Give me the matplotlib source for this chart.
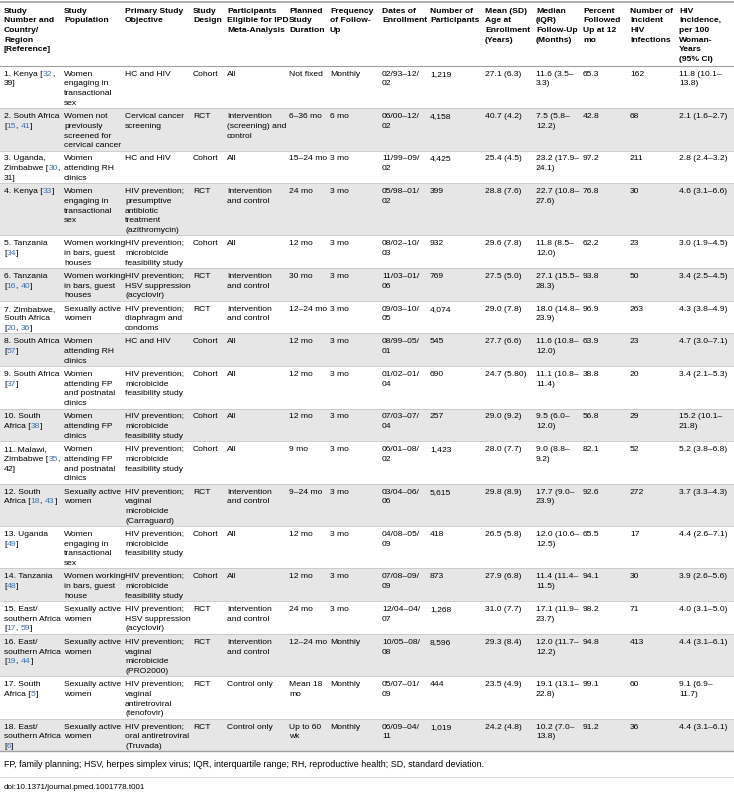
import matplotlib.pyplot as plt
from matplotlib.font_manager import FontProperties

plt.rcParams['font.family'] = ['Liberation Sans', 'DejaVu Sans']

header = ["Study\nNumber and\nCountry/\nRegion\n[Reference]", "Study\nPopulation", "Primary Study\nObjective",
          "Study\nDesign", "Participants\nEligible for IPD\nMeta-Analysis", "Planned\nStudy\nDuration",
          "Frequency\nof Follow-\nUp", "Dates of\nEnrollment", "Number of\nParticipants",
          "Mean (SD)\nAge at\nEnrollment\n(Years)", "Median\n(IQR)\nFollow-Up\n(Months)",
          "Percent\nFollowed\nUp at 12\nmo", "Number of\nIncident\nHIV\nInfections",
          "HIV\nIncidence,\nper 100\nWoman-\nYears\n(95% CI)"]

study = ["1. Kenya [32,\n39]", "2. South Africa\n[15, 41]", "3. Uganda,\nZimbabwe [30,\n31]", "4. Kenya [33]",
         "5. Tanzania\n[34]", "6. Tanzania\n[16, 40]", "7. Zimbabwe,\nSouth Africa\n[20, 36]",
         "8. South Africa\n[57]", "9. South Africa\n[37]", "10. South\nAfrica [38]",
         "11. Malawi,\nZimbabwe [35,\n42]", "12. South\nAfrica [18, 43]", "13. Uganda\n[49]",
         "14. Tanzania\n[48]", "15. East/\nsouthern Africa\n[17, 59]", "16. East/\nsouthern Africa\n[19, 44]",
         "17. South\nAfrica [5]", "18. East/\nsouthern Africa\n[6]"]
population = ["Women\nengaging in\ntransactional\nsex", "Women not\npreviously\nscreened for\ncervical cancer",
              "Women\nattending RH\nclinics", "Women\nengaging in\ntransactional\nsex",
              "Women working\nin bars, guest\nhouses", "Women working\nin bars, guest\nhouses",
              "Sexually active\nwomen", "Women\nattending RH\nclinics", "Women\nattending FP\nand postnatal\nclinics",
              "Women\nattending FP\nclinics", "Women\nattending FP\nand postnatal\nclinics", "Sexually active\nwomen",
              "Women\nengaging in\ntransactional\nsex", "Women working\nin bars, guest\nhouse",
              "Sexually active\nwomen", "Sexually active\nwomen", "Sexually active\nwomen", "Sexually active\nwomen"]
objective = ["HC and HIV", "Cervical cancer\nscreening", "HC and HIV",
             "HIV prevention;\npresumptive\nantibiotic\ntreatment\n(azithromycin)",
             "HIV prevention;\nmicrobicide\nfeasibility study", "HIV prevention;\nHSV suppression\n(acyclovir)",
             "HIV prevention;\ndiaphragm and\ncondoms", "HC and HIV", "HIV prevention;\nmicrobicide\nfeasibility study",
             "HIV prevention;\nmicrobicide\nfeasibility study", "HIV prevention;\nmicrobicide\nfeasibility study",
             "HIV prevention;\nvaginal\nmicrobicide\n(Carraguard)", "HIV prevention;\nmicrobicide\nfeasibility study",
             "HIV prevention;\nmicrobicide\nfeasibility study", "HIV prevention;\nHSV suppression\n(acyclovir)",
             "HIV prevention;\nvaginal\nmicrobicide\n(PRO2000)", "HIV prevention;\nvaginal\nantiretroviral\n(tenofovir)",
             "HIV prevention;\noral antiretroviral\n(Truvada)"]
design = ["Cohort", "RCT", "Cohort", "RCT", "Cohort", "RCT", "RCT", "Cohort", "Cohort", "Cohort", "Cohort",
          "RCT", "Cohort", "Cohort", "RCT", "RCT", "RCT", "RCT"]
eligible = ["All", "Intervention\n(screening) and\ncontrol", "All", "Intervention\nand control", "All",
            "Intervention\nand control", "Intervention\nand control", "All", "All", "All", "All",
            "Intervention\nand control", "All", "All", "Intervention\nand control", "Intervention\nand control",
            "Control only", "Control only"]
duration = ["Not fixed", "6–36 mo", "15–24 mo", "24 mo", "12 mo", "30 mo", "12–24 mo", "12 mo", "12 mo", "12 mo",
            "9 mo", "9–24 mo", "12 mo", "12 mo", "24 mo", "12–24 mo", "Mean 18\nmo", "Up to 60\nwk"]
frequency = ["Monthly", "6 mo", "3 mo", "3 mo", "3 mo", "3 mo", "3 mo", "3 mo", "3 mo", "3 mo", "3 mo", "3 mo",
             "3 mo", "3 mo", "3 mo", "Monthly", "Monthly", "Monthly"]
dates = ["02/93–12/\n02", "06/00–12/\n02", "11/99–09/\n02", "05/98–01/\n02", "08/02–10/\n03", "11/03–01/\n06",
         "09/03–10/\n05", "08/99–05/\n01", "01/02–01/\n04", "07/03–07/\n04", "06/01–08/\n02", "03/04–06/\n06",
         "04/08–05/\n09", "07/08–09/\n09", "12/04–04/\n07", "10/05–08/\n08", "05/07–01/\n09", "06/09–04/\n11"]
participants = ["1,219", "4,158", "4,425", "399", "932", "769", "4,074", "545", "690", "257", "1,423", "5,615",
                "418", "873", "1,268", "8,596", "444", "1,019"]
age = ["27.1 (6.3)", "40.7 (4.2)", "25.4 (4.5)", "28.8 (7.6)", "29.6 (7.8)", "27.5 (5.0)", "29.0 (7.8)",
       "27.7 (6.6)", "24.7 (5.80)", "29.0 (9.2)", "28.0 (7.7)", "29.8 (8.9)", "26.5 (5.8)", "27.9 (6.8)",
       "31.0 (7.7)", "29.3 (8.4)", "23.5 (4.9)", "24.2 (4.8)"]
followup = ["11.6 (3.5–\n3.3)", "7.5 (5.8–\n12.2)", "23.2 (17.9–\n24.1)", "22.7 (10.8–\n27.6)", "11.8 (8.5–\n12.0)",
            "27.1 (15.5–\n28.3)", "18.0 (14.8–\n23.9)", "11.6 (10.8–\n12.0)", "11.1 (10.8–\n11.4)",
            "9.5 (6.0–\n12.0)", "9.0 (8.8–\n9.2)", "17.7 (9.0–\n23.9)", "12.0 (10.6–\n12.5)", "11.4 (11.4–\n11.5)",
            "17.1 (11.9–\n23.7)", "12.0 (11.7–\n12.2)", "19.1 (13.1–\n22.8)", "10.2 (7.0–\n13.8)"]
pct12 = ["65.3", "42.8", "97.2", "76.8", "62.2", "93.8", "96.9", "63.9", "38.8", "56.8", "82.1", "92.6", "65.5",
         "94.1", "98.2", "94.8", "99.1", "91.2"]
infections = ["162", "68", "211", "30", "23", "50", "263", "23", "20", "29", "52", "272", "17", "30", "71", "413",
              "60", "36"]
incidence = ["11.8 (10.1–\n13.8)", "2.1 (1.6–2.7)", "2.8 (2.4–3.2)", "4.6 (3.1–6.6)", "3.0 (1.9–4.5)",
             "3.4 (2.5–4.5)", "4.3 (3.8–4.9)", "4.7 (3.0–7.1)", "3.4 (2.1–5.3)", "15.2 (10.1–\n21.8)",
             "5.2 (3.8–6.8)", "3.7 (3.3–4.3)", "4.4 (2.6–7.1)", "3.9 (2.6–5.6)", "4.0 (3.1–5.0)",
             "4.4 (3.1–6.1)", "9.1 (6.9–\n11.7)", "4.4 (3.1–6.1)"]

columns = [study, population, objective, design, eligible, duration, frequency, dates, participants, age,
           followup, pct12, infections, incidence]
col_x = [4, 64, 125, 193, 227, 289, 330, 382, 430, 485, 536, 583, 630, 679]

footnote = "FP, family planning; HSV, herpes simplex virus; IQR, interquartile range; RH, reproductive health; SD, standard deviation."
doi = "doi:10.1371/journal.pmed.1001778.t001"

LINE = 9.7
PAD = 3.6
FS = 6.1
BLUE = '#3d6fb6'

fig = plt.figure(figsize=(7.34, 8.0), dpi=100)
ax = fig.add_axes([0, 0, 1, 1])
ax.set_xlim(0, 734)
ax.set_ylim(800, 0)
ax.axis('off')
renderer = fig.canvas.get_renderer()
prop = FontProperties(family=['Liberation Sans', 'DejaVu Sans'], size=FS)


def text_width(s):
    # advance width in pixels (1 data unit = 1 px here), trailing spaces included
    w, _, _ = renderer.get_text_width_height_descent(s.replace(' ', '\u00a0'), prop, ismath=False)
    return w


def draw_ref_line(x, y, s):
    # black text with the reference numbers inside brackets in blue
    segs = []
    inside = False
    for ch in s:
        if ch == '[':
            inside = True
        elif ch == ']':
            inside = False
        col = BLUE if inside and ch.isdigit() else 'black'
        if segs and segs[-1][1] == col:
            segs[-1][0] += ch
        else:
            segs.append([ch, col])
    for txt, col in segs:
        ax.text(x, y, txt, fontproperties=prop, color=col, va='baseline', ha='left')
        x += text_width(txt)


def nlines(row):
    return max(len(c[row].split('\n')) for c in columns)


top = 2
hdr_lines = max(len(h.split('\n')) for h in header)
ax.plot([0, 734], [top, top], color='#a0a0a0', lw=1.2)
for x, h in zip(col_x, header):
    for k, ln in enumerate(h.split('\n')):
        ax.text(x, top + PAD + 7 + k * LINE, ln, fontsize=FS, fontweight='bold', va='baseline')
y = top + hdr_lines * LINE + PAD + 2
ax.plot([0, 734], [y, y], color='#a0a0a0', lw=0.8)

for r in range(len(study)):
    h = nlines(r) * LINE + PAD
    if r % 2 == 1:
        ax.add_patch(plt.Rectangle((0, y), 734, h, color='#e6e6e6', lw=0, zorder=0))
    for c, x in zip(columns, col_x):
        for k, ln in enumerate(c[r].split('\n')):
            yy = y + PAD + 6.3 + k * LINE
            if c is study:
                draw_ref_line(x, yy, ln)
            else:
                ax.text(x, yy, ln, fontproperties=prop, va='baseline')
    y += h
    ax.plot([0, 734], [y, y], color='#c8c8c8', lw=0.6)

ax.plot([0, 734], [y, y], color='#a0a0a0', lw=1.0)
ax.text(4, y + 16, footnote, fontsize=FS + 0.3, va='baseline')
ax.plot([0, 734], [y + 26, y + 26], color='#d0d0d0', lw=0.6)
ax.text(4, y + 38, doi, fontsize=FS - 0.3, va='baseline')

fig.savefig('out.png', dpi=100)
